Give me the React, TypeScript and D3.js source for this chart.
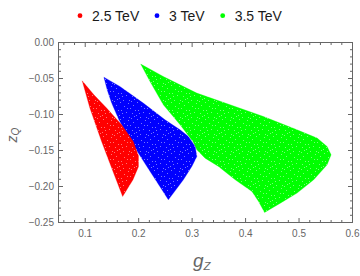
import React from "react";
import * as d3 from "d3";

type Pt = [number, number];

// legend
const seriesNames = ["2.5 TeV", "3 TeV", "3.5 TeV"];
const seriesColors = ["#ff0000", "#0000ff", "#00ff00"];

// outlines of the three scatter clouds as [gZ, zQ]
const region25: Pt[] = [
  [0.0943, -0.0532],
  [0.1162, -0.0726],
  [0.14, -0.0911],
  [0.1681, -0.1143],
  [0.1899, -0.1375],
  [0.1996, -0.1574],
  [0.1996, -0.1726],
  [0.1893, -0.1907],
  [0.17, -0.2139],
  [0.1543, -0.1838],
  [0.1306, -0.1375],
  [0.1087, -0.0911],
];

const region30: Pt[] = [
  [0.1349, -0.0481],
  [0.1649, -0.0611],
  [0.2086, -0.0842],
  [0.2493, -0.1074],
  [0.2775, -0.1213],
  [0.293, -0.1306],
  [0.3056, -0.1444],
  [0.3088, -0.1583],
  [0.2994, -0.1722],
  [0.2836, -0.1907],
  [0.2555, -0.2185],
  [0.2396, -0.2],
  [0.2193, -0.1768],
  [0.1993, -0.1536],
  [0.18, -0.1306],
  [0.1631, -0.1074],
  [0.1494, -0.0842],
  [0.1412, -0.066],
];

const region35: Pt[] = [
  [0.2038, -0.03],
  [0.2461, -0.0472],
  [0.3088, -0.0703],
  [0.3712, -0.0865],
  [0.4336, -0.1028],
  [0.4963, -0.1213],
  [0.5338, -0.1328],
  [0.5525, -0.1444],
  [0.56, -0.156],
  [0.5525, -0.1699],
  [0.5274, -0.1907],
  [0.4963, -0.2092],
  [0.465, -0.2231],
  [0.4355, -0.2361],
  [0.4243, -0.2208],
  [0.4119, -0.2069],
  [0.3806, -0.1907],
  [0.3493, -0.1722],
  [0.3243, -0.1606],
  [0.3088, -0.149],
  [0.3018, -0.1379],
  [0.2775, -0.1143],
  [0.2461, -0.0865],
  [0.2212, -0.0542],
];

const regions = [region25, region30, region35];

const xTicks = [0.1, 0.2, 0.3, 0.4, 0.5, 0.6];
const yTicks = [0, -0.05, -0.1, -0.15, -0.2, -0.25];

const W = 360;
const H = 276;
const left = 58.5;
const right = 352.5;
const top = 42.5;
const bottom = 222.5;

// little gaps between the dots of the cloud (one 17x17 tile)
const TILE = 17;
const specks: Pt[] = [
  [1, 0], [9, 1], [14, 3], [5, 4], [11, 6], [2, 8], [16, 8], [7, 10],
  [13, 11], [0, 13], [4, 15], [10, 15], [15, 14], [8, 6], [12, 16],
  [3, 11],
];

const font = "'Liberation Sans', Arial, sans-serif";
const gray = "#666";

const App = () => {
  const x = d3.scaleLinear().domain([0.05, 0.6]).range([left, right]);
  const y = d3.scaleLinear().domain([-0.25, 0]).range([bottom, top]);

  const line = d3
    .line<Pt>()
    .x((d) => x(d[0]))
    .y((d) => y(d[1]))
    .curve(d3.curveLinearClosed);

  const xMinor = d3.range(0.06, 0.6001, 0.02).filter(
    (v) => !xTicks.some((t) => Math.abs(t - v) < 1e-6)
  );
  const yMinor = d3.range(-0.25, 0.0001, 0.01).filter(
    (v) => !yTicks.some((t) => Math.abs(t - v) < 1e-6)
  );
  const fmtY = d3.format(".2f");
  const fmtX = d3.format(".1f");

  const major = 4.5;
  const minor = 2.5;

  // legend sits centred above the frame
  const legendX = [80, 157, 222.7];

  return (
    <svg
      width={W}
      height={H}
      style={{ position: "absolute", left: 0, top: 0, background: "#fff" }}
      fontFamily={font}
    >
      <defs>
        {seriesColors.map((c, i) => (
          <pattern
            key={i}
            id={`cloud${i}`}
            patternUnits="userSpaceOnUse"
            width={TILE}
            height={TILE}
          >
            <rect width={TILE} height={TILE} fill={c} />
            {specks.map((s, j) => (
              <rect
                key={j}
                x={s[0]}
                y={s[1]}
                width={1}
                height={1}
                fill="#fff"
                opacity={0.45}
              />
            ))}
          </pattern>
        ))}
      </defs>

      {/* clouds: green first, red on top */}
      {[2, 1, 0].map((i) => (
        <path
          key={i}
          d={line(regions[i]) || ""}
          fill={`url(#cloud${i})`}
          stroke={seriesColors[i]}
          strokeOpacity={0.35}
          strokeWidth={0.8}
        />
      ))}

      {/* frame */}
      <rect
        x={left}
        y={top}
        width={right - left}
        height={bottom - top}
        fill="none"
        stroke={gray}
        strokeWidth={1}
      />

      {/* ticks on all four sides, pointing in */}
      <g stroke={gray} strokeWidth={1}>
        {xTicks.map((t) => (
          <g key={`xm${t}`}>
            <line x1={x(t)} x2={x(t)} y1={bottom} y2={bottom - major} />
            <line x1={x(t)} x2={x(t)} y1={top} y2={top + major} />
          </g>
        ))}
        {xMinor.map((t) => (
          <g key={`xn${t}`}>
            <line x1={x(t)} x2={x(t)} y1={bottom} y2={bottom - minor} />
            <line x1={x(t)} x2={x(t)} y1={top} y2={top + minor} />
          </g>
        ))}
        {yTicks.map((t) => (
          <g key={`ym${t}`}>
            <line x1={left} x2={left + major} y1={y(t)} y2={y(t)} />
            <line x1={right} x2={right - major} y1={y(t)} y2={y(t)} />
          </g>
        ))}
        {yMinor.map((t) => (
          <g key={`yn${t}`}>
            <line x1={left} x2={left + minor} y1={y(t)} y2={y(t)} />
            <line x1={right} x2={right - minor} y1={y(t)} y2={y(t)} />
          </g>
        ))}
      </g>

      {/* tick labels */}
      <g fill={gray} fontSize={10}>
        {xTicks.map((t) => (
          <text key={t} x={x(t)} y={bottom + 14} textAnchor="middle">
            {fmtX(t)}
          </text>
        ))}
        {yTicks.map((t) => (
          <text
            key={t}
            x={left - 4.5}
            y={y(t) + 3.5}
            textAnchor="end"
          >
            {fmtY(t)}
          </text>
        ))}
      </g>

      {/* axis labels */}
      <text x={193} y={266.8} fill={gray} fontStyle="italic">
        <tspan fontSize={19}>g</tspan>
        <tspan fontSize={11.5} dy={3}>Z</tspan>
      </text>
      <text
        transform="translate(17,142.5) rotate(-90)"
        fill={gray}
        fontStyle="italic"
      >
        <tspan fontSize={14}>z</tspan>
        <tspan fontSize={10} dy={2}>Q</tspan>
      </text>

      {/* legend */}
      {seriesNames.map((name, i) => (
        <g key={name}>
          <circle cx={legendX[i]} cy={15.7} r={2.4} fill={seriesColors[i]} />
          <text x={legendX[i] + 12} y={20.5} fontSize={14} fill="#1a1a1a">
            {name}
          </text>
        </g>
      ))}
    </svg>
  );
};

export default App;
